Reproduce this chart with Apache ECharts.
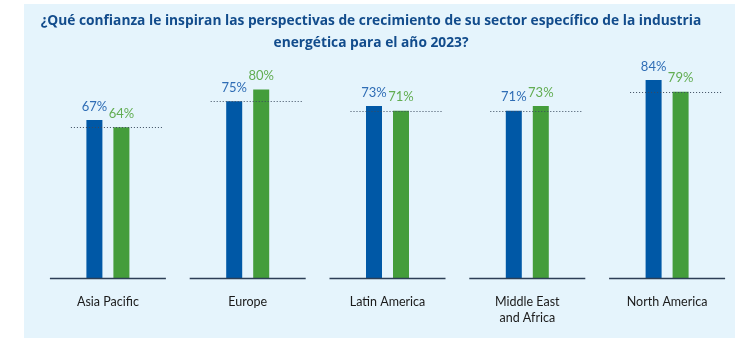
<!DOCTYPE html>
<html>
<head>
<meta charset="utf-8">
<script src="https://cdn.jsdelivr.net/npm/echarts@6/dist/echarts.min.js"></script>
<style>
html,body{margin:0;padding:0;background:#ffffff;}
#c{width:737px;height:347px;}
</style>
</head>
<body>
<div id="c"></div>
<script>
var categories = ['Asia Pacific', 'Europe', 'Latin America', 'Middle East\nand Africa', 'North America'];
var blueValues = [67, 75, 73, 71, 84];
var greenValues = [64, 80, 71, 73, 79];
var dottedValues = [64, 75, 71, 71, 79];
var titleText = '¿Qué confianza le inspiran las perspectivas de crecimiento de su sector específico de la industria\nenergética para el año 2023?';

var chart = echarts.init(document.getElementById('c'), null, {renderer: 'canvas'});

var baseIdx = categories.map(function (c, i) { return [i, 0]; });
var dotData = dottedValues.map(function (v, i) { return [i, v]; });

var option = {
  backgroundColor: '#ffffff',
  animation: false,
  graphic: [{
    type: 'rect', z: -10, silent: true,
    shape: {x: 24, y: 4, width: 711, height: 334},
    style: {fill: '#e5f4fc'}
  }, {
    type: 'text', z: 10, silent: true,
    x: 371, y: 10,
    style: {
      text: titleText, align: 'center', verticalAlign: 'top',
      font: 'bold 13.75px "Open Sans"', fill: '#124c8c', lineHeight: 22
    }
  }],
  grid: {left: 38, width: 702, top: 42.3, height: 235.7, containLabel: false},
  xAxis: {
    type: 'category', data: categories,
    axisLine: {show: false}, axisTick: {show: false},
    axisLabel: {
      margin: 16, color: '#1a1a1a', fontFamily: 'Lato', fontSize: 12.5, lineHeight: 16,
      interval: 0
    }
  },
  yAxis: {type: 'value', min: 0, max: 100, show: false, splitLine: {show: false}},
  series: [
    {
      type: 'bar', data: blueValues, barWidth: 16, barGap: '68.75%',
      itemStyle: {color: '#0058a6'},
      label: {show: true, position: 'top', distance: 7, formatter: '{c}%',
        color: '#2f6db5', fontFamily: 'Lato', fontSize: 13}
    },
    {
      type: 'bar', data: greenValues, barWidth: 16,
      itemStyle: {color: '#449d3b'},
      label: {show: true, position: 'top', distance: 7, formatter: '{c}%',
        color: '#62ad52', fontFamily: 'Lato', fontSize: 13}
    },
    {
      type: 'custom', data: baseIdx, z: 5, silent: true,
      renderItem: function (params, api) {
        var p = api.coord([api.value(0), 0]);
        return {type: 'line', shape: {x1: p[0] - 58, y1: p[1] + 0.5, x2: p[0] + 58, y2: p[1] + 0.5},
          style: {stroke: '#2c3e55', lineWidth: 1.3}};
      }
    },
    {
      type: 'custom', data: dotData, z: 6, silent: true,
      renderItem: function (params, api) {
        var p = api.coord([api.value(0), api.value(1)]);
        return {type: 'line', shape: {x1: p[0] - 37, y1: Math.round(p[1]) + 0.5, x2: p[0] + 56, y2: Math.round(p[1]) + 0.5},
          style: {stroke: '#3a4a5e', lineWidth: 1, lineDash: [1, 2]}};
      }
    }
  ]
};
chart.setOption(option);
</script>
</body>
</html>
